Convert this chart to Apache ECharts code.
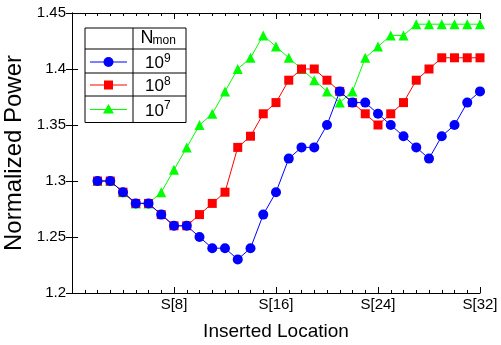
<!DOCTYPE html>
<html>
<head>
<meta charset="utf-8">
<script src="https://cdn.jsdelivr.net/npm/echarts@6/dist/echarts.min.js"></script>
<style>html,body{margin:0;padding:0;background:#fff}#c{width:501px;height:345px}</style>
</head>
<body>
<div id="c"></div>
<script>
const positions = [2,3,4,5,6,7,8,9,10,11,12,13,14,15,16,17,18,19,20,21,22,23,24,25,26,27,28,29,30,31,32];
const power1e9 = [1.30,1.30,1.29,1.28,1.28,1.27,1.26,1.26,1.25,1.24,1.24,1.23,1.24,1.27,1.29,1.32,1.33,1.33,1.35,1.38,1.37,1.37,1.36,1.35,1.34,1.33,1.32,1.34,1.35,1.37,1.38];
const power1e8 = [1.30,1.30,1.29,1.28,1.28,1.27,1.26,1.26,1.27,1.28,1.29,1.33,1.34,1.36,1.37,1.39,1.40,1.40,1.39,1.38,1.37,1.36,1.35,1.36,1.37,1.39,1.40,1.41,1.41,1.41,1.41];
const power1e7 = [1.30,1.30,1.29,1.28,1.28,1.29,1.31,1.33,1.35,1.36,1.38,1.40,1.41,1.43,1.42,1.41,1.40,1.39,1.38,1.37,1.38,1.41,1.42,1.43,1.43,1.44,1.44,1.44,1.44,1.44,1.44];
const xTickLabels = {8:'S[8]',16:'S[16]',24:'S[24]',32:'S[32]'};
const legendExp = ['9','8','7'];

const FONT = '"Liberation Sans", Arial, Helvetica, sans-serif';
const pair = arr => positions.map((p,i)=>[p,arr[i]]);
const chart = echarts.init(document.getElementById('c'), null, {renderer:'canvas'});

const axisLine = {show:true, lineStyle:{color:'#000', width:1}};
const xCommon = {type:'value', min:0, max:32, interval:8, splitLine:{show:false},
  axisLine: axisLine, axisTick:{show:true, inside:true, length:6, lineStyle:{color:'#000'}},
  minorTick:{show:true, splitNumber:8, length:3, lineStyle:{color:'#000'}}, minorSplitLine:{show:false}};
const yCommon = {type:'value', min:1.2, max:1.45, interval:0.05, splitLine:{show:false},
  axisLine: axisLine, axisTick:{show:true, inside:true, length:6, lineStyle:{color:'#000'}}};

// legend table geometry
const L = {x0:85, x1:186, xd:133, rows:[28,49,73,96,122.5]};
const colors = ['#0000ff','#ff0000','#00ff00'];
const graphics = [];
graphics.push({type:'rect', shape:{x:L.x0, y:L.rows[0], width:L.x1-L.x0, height:L.rows[4]-L.rows[0]},
  style:{fill:'#fff', stroke:'#000', lineWidth:1}, z:100});
graphics.push({type:'line', shape:{x1:L.xd, y1:L.rows[0], x2:L.xd, y2:L.rows[4]}, style:{stroke:'#000', lineWidth:1}, z:101});
for (let i=1;i<4;i++) graphics.push({type:'line', shape:{x1:L.x0, y1:L.rows[i], x2:L.x1, y2:L.rows[i]}, style:{stroke:'#000', lineWidth:1}, z:101});
graphics.push({type:'text', x:140.5, y:38.5, style:{text:'N', font:'18px '+FONT, fill:'#000', verticalAlign:'middle', textVerticalAlign:'middle'}, z:102});
graphics.push({type:'text', x:152.5, y:41, style:{text:'mon', font:'12px '+FONT, fill:'#000', verticalAlign:'middle', textVerticalAlign:'middle'}, z:102});
const centers = [62, 85, 109.5];
for (let i=0;i<3;i++){
  const cy = centers[i];
  graphics.push({type:'line', shape:{x1:90, y1:cy, x2:127, y2:cy}, style:{stroke:colors[i], lineWidth:1}, z:102});
  if (i===0) graphics.push({type:'circle', shape:{cx:108.5, cy:cy, r:5}, style:{fill:colors[i]}, z:103});
  if (i===1) graphics.push({type:'rect', shape:{x:104, y:cy-4.5, width:9, height:9}, style:{fill:colors[i]}, z:103});
  if (i===2) graphics.push({type:'polygon', shape:{points:[[108.5,cy-5.5],[103,cy+4],[114,cy+4]]}, style:{fill:colors[i]}, z:103});
  graphics.push({type:'text', x:145, y:cy+1.5, style:{text:'10', font:'17px '+FONT, fill:'#000', verticalAlign:'middle', textVerticalAlign:'middle'}, z:102});
  graphics.push({type:'text', x:164, y:cy-3.5, style:{text:legendExp[i], font:'12px '+FONT, fill:'#000', verticalAlign:'middle', textVerticalAlign:'middle'}, z:102});
}

chart.setOption({
  animation:false,
  backgroundColor:'#fff',
  textStyle:{fontFamily:FONT},
  grid:{left:72, right:21, top:13, bottom:52, containLabel:false, outerBoundsMode:'none'},
  xAxis:[
    Object.assign({}, xCommon, {position:'bottom',
      name:'Inserted Location', nameLocation:'middle', nameGap:29,
      nameTextStyle:{fontSize:19, color:'#000', fontFamily:FONT},
      axisLabel:{show:true, color:'#000', fontSize:15, fontFamily:FONT, margin:4,
        formatter:v=>xTickLabels[v]||''}}),
    Object.assign({}, xCommon, {position:'top', axisLabel:{show:false}})
  ],
  yAxis:[
    Object.assign({}, yCommon, {position:'left',
      name:'Normalized Power', nameLocation:'middle', nameGap:44,
      nameTextStyle:{fontSize:24, color:'#000', fontFamily:FONT},
      axisLabel:{show:true, color:'#000', fontSize:15, fontFamily:FONT, margin:6,
        formatter:v=>String(+v.toFixed(2))}}),
    Object.assign({}, yCommon, {position:'right', axisLabel:{show:false}})
  ],
  series:[
    {name:'1e7', type:'line', data:pair(power1e7), symbol:'triangle', symbolSize:10, z:2,
      itemStyle:{color:colors[2]}, lineStyle:{color:colors[2], width:1}},
    {name:'1e8', type:'line', data:pair(power1e8), symbol:'rect', symbolSize:9, z:3,
      itemStyle:{color:colors[1]}, lineStyle:{color:colors[1], width:1}},
    {name:'1e9', type:'line', data:pair(power1e9), symbol:'circle', symbolSize:10, z:4,
      itemStyle:{color:colors[0]}, lineStyle:{color:colors[0], width:1}}
  ],
  graphic: graphics
});
</script>
</body>
</html>
